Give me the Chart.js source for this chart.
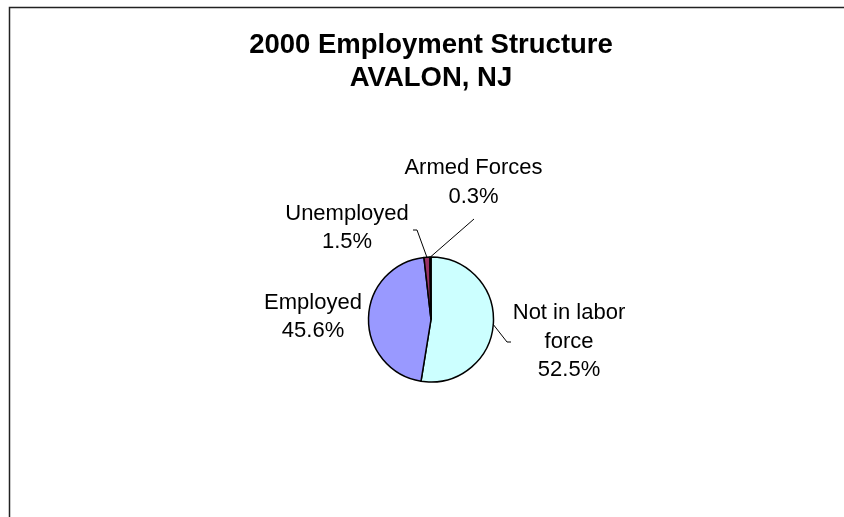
<!DOCTYPE html>
<html>
<head>
<meta charset="utf-8">
<script src="https://cdn.jsdelivr.net/npm/chart.js@4/dist/chart.umd.min.js"></script>
<style>
  html, body { margin: 0; padding: 0; background: #fff; }
  #wrap { width: 844px; height: 517px; }
</style>
</head>
<body>
<div id="wrap"><canvas id="pieChart"></canvas></div>
<script>
// data (clockwise from 12 o'clock)
const categories = ['Not in labor force', 'Employed', 'Unemployed', 'Armed Forces'];
const shares = [52.5, 45.6, 1.5, 0.3];
const titleLines = ['2000 Employment Structure', 'AVALON, NJ'];

// styles
const sliceColors = ['#CCFFFF', '#9999FF', '#993366', '#FFFFCC'];
const FONT = "'Liberation Sans', Arial, sans-serif";
const LABEL_SIZE = 22;
const LABEL_LINE = 28.5;

// label placement relative to pie centre (Excel moved these around)
const labelLayout = [
  { dx: 138, dy: 22, wrap: 120, leader: [[76, 22.5], [80, 22.5]] },
  { dx: -118, dy: -2.5, wrap: 200, leader: null },
  { dx: -84, dy: -91.5, wrap: 200, leader: [[-14, -89.5], [-18, -89.5]] },
  { dx: 42.5, dy: -137, wrap: 200, leader: [[43, -100.5]] }
];

function wrapText(ctx, text, maxW) {
  const words = text.split(' ');
  const lines = [];
  let cur = '';
  words.forEach(w => {
    const t = cur ? cur + ' ' + w : w;
    if (cur && ctx.measureText(t).width > maxW) {
      lines.push(cur);
      cur = w;
    } else {
      cur = t;
    }
  });
  if (cur) lines.push(cur);
  return lines;
}

const frame = {
  id: 'frame',
  beforeDraw(chart) {
    const ctx = chart.ctx;
    ctx.save();
    ctx.fillStyle = '#fff';
    ctx.fillRect(0, 0, chart.width, chart.height);
    ctx.strokeStyle = '#222';
    ctx.lineWidth = 1.5;
    ctx.strokeRect(9.5, 7.5, 1000, 1000);
    // title, centred over the pie like Excel does
    const area = chart.chartArea;
    const cx = (area.left + area.right) / 2;
    ctx.fillStyle = '#000';
    ctx.font = 'bold 27.5px ' + FONT;
    ctx.textAlign = 'center';
    ctx.textBaseline = 'middle';
    titleLines.forEach((t, k) => ctx.fillText(t, cx, 45.5 + k * 33));
    ctx.restore();
  }
};

const sliceLabels = {
  id: 'sliceLabels',
  afterDatasetsDraw(chart) {
    const ctx = chart.ctx;
    const meta = chart.getDatasetMeta(0);
    ctx.save();
    ctx.font = LABEL_SIZE + 'px ' + FONT;
    ctx.fillStyle = '#000';
    ctx.textAlign = 'center';
    ctx.textBaseline = 'middle';
    meta.data.forEach((arc, i) => {
      const p = arc.getProps(['x', 'y', 'startAngle', 'endAngle', 'outerRadius'], true);
      const lay = labelLayout[i];
      const lines = wrapText(ctx, categories[i], lay.wrap).concat([shares[i].toFixed(1) + '%']);
      const cx = p.x + lay.dx;
      const cy = p.y + lay.dy;
      lines.forEach((ln, k) => {
        ctx.fillText(ln, cx, cy + (k - (lines.length - 1) / 2) * LABEL_LINE);
      });
      if (lay.leader) {
        const mid = (p.startAngle + p.endAngle) / 2;
        ctx.beginPath();
        ctx.strokeStyle = '#000';
        ctx.lineWidth = 1;
        ctx.moveTo(p.x + Math.cos(mid) * p.outerRadius, p.y + Math.sin(mid) * p.outerRadius);
        lay.leader.forEach(pt => ctx.lineTo(p.x + pt[0], p.y + pt[1]));
        ctx.stroke();
      }
    });
    ctx.restore();
  }
};

new Chart(document.getElementById('pieChart'), {
  type: 'pie',
  data: {
    labels: categories,
    datasets: [{
      data: shares,
      backgroundColor: sliceColors,
      borderColor: '#000',
      borderWidth: 1.5
    }]
  },
  options: {
    responsive: true,
    maintainAspectRatio: false,
    animation: false,
    layout: {
      padding: { left: 367.75, right: 349.75, top: 256.25, bottom: 134.25 }
    },
    plugins: {
      legend: { display: false },
      tooltip: { enabled: false },
      title: { display: false }
    }
  },
  plugins: [frame, sliceLabels]
});
</script>
</body>
</html>
